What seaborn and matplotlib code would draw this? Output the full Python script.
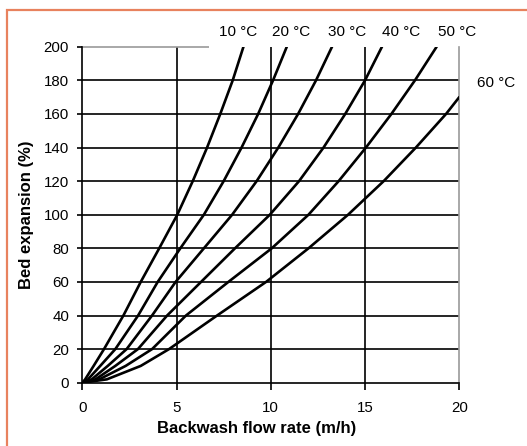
import pandas as pd
import seaborn as sns
import matplotlib.pyplot as plt
from matplotlib.patches import Rectangle

# bed expansion levels (%) and the flow rate (m/h) read at each level
expansion = [0, 2, 10, 20, 40, 60, 80, 100, 120, 140, 160, 180, 200]
flow_10 = [0, 0.15, 0.6, 1.15, 2.18, 3.1, 4.08, 5.04, 5.86, 6.62, 7.32, 7.98, 8.55]
flow_20 = [0, 0.3, 0.95, 1.75, 2.96, 4.0, 5.2, 6.45, 7.5, 8.45, 9.33, 10.12, 10.85]
flow_30 = [0, 0.5, 1.35, 2.35, 3.7, 4.95, 6.45, 7.95, 9.25, 10.4, 11.45, 12.4, 13.25]
flow_40 = [0, 0.7, 1.75, 2.95, 4.5, 6.3, 8.1, 9.95, 11.5, 12.8, 13.95, 15.0, 15.9]
flow_50 = [0, 0.9, 2.3, 3.7, 5.5, 7.75, 10.05, 12.0, 13.6, 15.05, 16.4, 17.65, 18.8]
expansion_60 = [0, 2, 10, 20, 40, 60, 80, 100, 120, 140, 160, 170]
flow_60 = [0, 1.3, 3.1, 4.6, 7.15, 9.75, 12.0, 14.1, 15.99, 17.7, 19.3, 20.0]

temps = ["10 °C", "20 °C", "30 °C", "40 °C", "50 °C", "60 °C"]
x_ticks = [0, 5, 10, 15, 20]
y_ticks = [0, 20, 40, 60, 80, 100, 120, 140, 160, 180, 200]

rows = []
for t, fl, ex in zip(temps,
                     [flow_10, flow_20, flow_30, flow_40, flow_50, flow_60],
                     [expansion] * 5 + [expansion_60]):
    for f, e in zip(fl, ex):
        rows.append({"temp": t, "flow": f, "expansion": e})
df = pd.DataFrame(rows)

sns.set_theme(style="white")
plt.rcParams['font.family'] = ['Liberation Sans', 'DejaVu Sans']

fig = plt.figure(figsize=(5.27, 4.46), dpi=100)
ax = fig.add_axes([0.1562, 0.1419, 0.7153, 0.7534])

# orange frame around the picture (right/bottom edges run off)
fig.patches.append(Rectangle((7 / 527, -0.1), 1.2, 1 - 10 / 446 + 0.1,
                             transform=fig.transFigure, fill=False,
                             edgecolor="#e8825e", lw=1.6))

# grid
for yv in y_ticks[1:-1]:
    ax.axhline(yv, color="black", lw=1.2, zorder=1)
for xv in x_ticks[1:-1]:
    ax.axvline(xv, color="black", lw=1.2, zorder=1)
ax.hlines(200, 0, 6.7, color="#999999", lw=1.2, clip_on=False, zorder=1)

sns.lineplot(data=df, x="flow", y="expansion", hue="temp",
             palette=["black"] * 6, estimator=None, sort=False,
             legend=False, lw=1.9, ax=ax, zorder=3)

ax.set_xlim(0, 20)
ax.set_ylim(0, 200)
ax.set_xticks(x_ticks)
ax.set_yticks(y_ticks)
ax.tick_params(axis="x", length=5, width=1.2, pad=8.5, labelsize=10.8,
               colors="black", bottom=True)
ax.tick_params(axis="y", length=3.5, width=1.2, pad=6, labelsize=10.8,
               colors="black", left=True)

for s in ["left", "bottom"]:
    ax.spines[s].set_color("black")
    ax.spines[s].set_linewidth(1.2)
ax.spines["top"].set_visible(False)
ax.spines["right"].set_color("#999999")
ax.spines["right"].set_linewidth(1.2)

ax.set_xlabel("Backwash flow rate (m/h)", fontsize=12, fontweight="bold",
              color="black")
ax.xaxis.set_label_coords(0.463, -0.115)
ax.set_ylabel("Bed expansion (%)", fontsize=12, fontweight="bold",
              color="black")
ax.yaxis.set_label_coords(-0.128, 0.5)

# curve labels
label_pos = [(8.26, 209), (11.07, 209), (14.04, 209), (16.9, 209),
             (19.88, 209), (21.95, 178.6)]
for t, (lx, ly) in zip(temps, label_pos):
    ax.text(lx, ly, t, ha="center", va="center", fontsize=11,
            color="black", clip_on=False)

fig.savefig("out.png", dpi=100)
